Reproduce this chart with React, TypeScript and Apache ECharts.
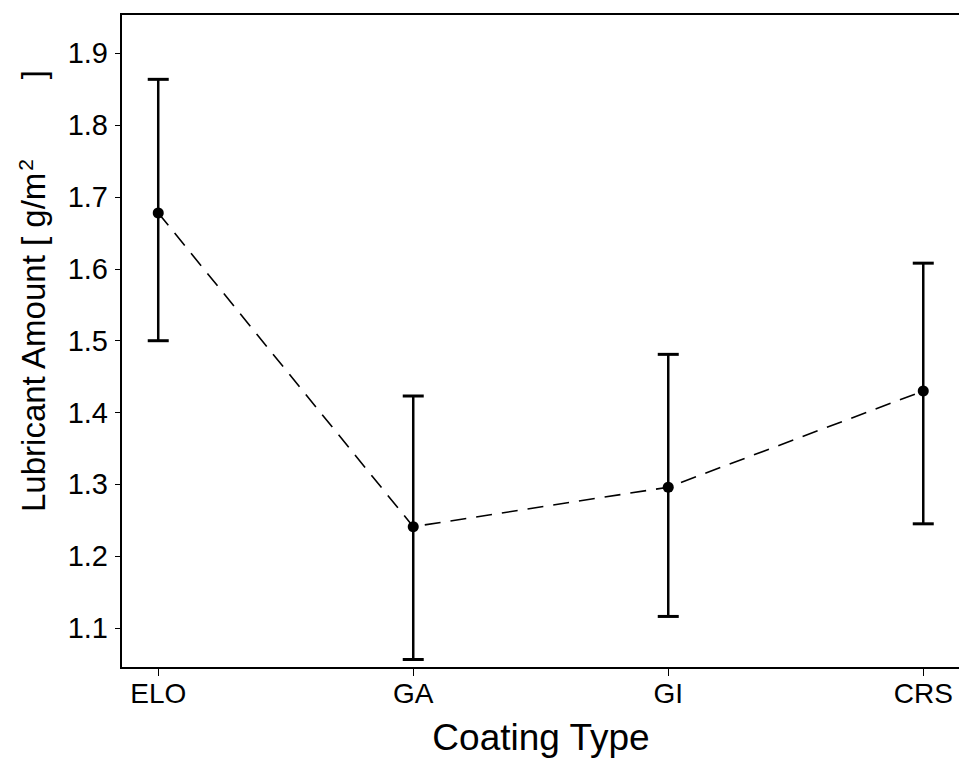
import React, { useEffect, useRef } from "react";
import * as echarts from "echarts";

const categories = ["ELO", "GA", "GI", "CRS"];
const xPositions = [1, 2, 3, 4];
const means = [1.678, 1.241, 1.296, 1.43];
const lowers = [1.5, 1.056, 1.116, 1.245];
const uppers = [1.864, 1.423, 1.481, 1.608];
const yTicks = [1.1, 1.2, 1.3, 1.4, 1.5, 1.6, 1.7, 1.8, 1.9];

const FONT = "'Liberation Sans', Arial, Helvetica, sans-serif";

export default function App() {
  const ref = useRef<HTMLDivElement>(null);

  useEffect(() => {
    if (!ref.current) return;
    const chart = echarts.init(ref.current, null, { renderer: "svg" });

    const lineData = means.map((m, i) => [xPositions[i], m]);
    const errData = xPositions.map((x, i) => [x, lowers[i], uppers[i]]);

    const option: any = {
      animation: false,
      backgroundColor: "#fff",
      grid: {
        left: 121,
        right: 1,
        top: 14,
        bottom: 90,
        show: true,
        borderColor: "#000",
        borderWidth: 2,
        backgroundColor: "transparent",
      },
      xAxis: {
        type: "value",
        min: 0.854,
        max: 4.148,
        axisLine: { show: true, onZero: false, lineStyle: { color: "#000", width: 2 } },
        axisTick: {
          show: true,
          length: 8,
          customValues: xPositions,
          lineStyle: { color: "#000", width: 1 },
        },
        axisLabel: {
          customValues: xPositions,
          formatter: (v: number) => categories[Math.round(v) - 1] ?? "",
          fontSize: 28,
          fontFamily: FONT,
          color: "#000",
          margin: 11,
        },
        splitLine: { show: false },
      },
      yAxis: {
        type: "value",
        min: 1.0442,
        max: 1.955,
        axisLine: { show: true, onZero: false, lineStyle: { color: "#000", width: 2 } },
        axisTick: {
          show: true,
          length: 6,
          customValues: yTicks,
          lineStyle: { color: "#000", width: 1 },
        },
        axisLabel: {
          customValues: yTicks,
          formatter: (v: number) => v.toFixed(1),
          fontSize: 29,
          fontFamily: FONT,
          color: "#000",
          margin: 13,
        },
        splitLine: { show: false },
      },
      series: [
        {
          type: "custom",
          data: errData,
          encode: { x: 0, y: [1, 2] },
          z: 2,
          renderItem: (params: any, api: any) => {
            const x = api.value(0);
            const lo = api.coord([x, api.value(1)]);
            const hi = api.coord([x, api.value(2)]);
            const hw = 10.5;
            const st = { stroke: "#000", lineWidth: 2.5 };
            const cap = { stroke: "#000", lineWidth: 3 };
            return {
              type: "group",
              children: [
                { type: "line", shape: { x1: lo[0], y1: lo[1], x2: hi[0], y2: hi[1] }, style: st },
                { type: "line", shape: { x1: lo[0] - hw, y1: lo[1], x2: lo[0] + hw, y2: lo[1] }, style: cap },
                { type: "line", shape: { x1: hi[0] - hw, y1: hi[1], x2: hi[0] + hw, y2: hi[1] }, style: cap },
              ],
            };
          },
        },
        {
          type: "line",
          data: lineData,
          z: 3,
          symbol: "circle",
          symbolSize: 11,
          itemStyle: { color: "#000" },
          lineStyle: { color: "#000", width: 1.6, type: [16, 10] },
        },
      ],
      graphic: [
        {
          type: "text",
          x: 541,
          y: 737,
          style: {
            text: "Coating Type",
            fontSize: 37,
            fontFamily: FONT,
            fill: "#000",
            align: "center",
            verticalAlign: "middle",
          },
        },
        {
          type: "text",
          x: 33.5,
          y: 512,
          rotation: Math.PI / 2,
          style: {
            text: "{a|Lubricant Amount [ g/m}{s|2}{g| }{a|]}",
            fontFamily: FONT,
            fill: "#000",
            align: "left",
            verticalAlign: "middle",
            rich: {
              a: { fontSize: 33, fontFamily: FONT, fill: "#000", lineHeight: 38, verticalAlign: "middle" },
              s: { fontSize: 21, fontFamily: FONT, fill: "#000", lineHeight: 38, verticalAlign: "top" },
              g: { fontSize: 33, fontFamily: FONT, width: 80, lineHeight: 38 },
            },
          },
        },
      ],
    };

    chart.setOption(option);
    return () => chart.dispose();
  }, []);

  return (
    <div
      style={{
        position: "fixed",
        left: 0,
        top: 0,
        width: 959,
        height: 758,
        overflow: "hidden",
        background: "#fff",
      }}
    >
      <div ref={ref} style={{ width: 962, height: 758 }} />
    </div>
  );
}
